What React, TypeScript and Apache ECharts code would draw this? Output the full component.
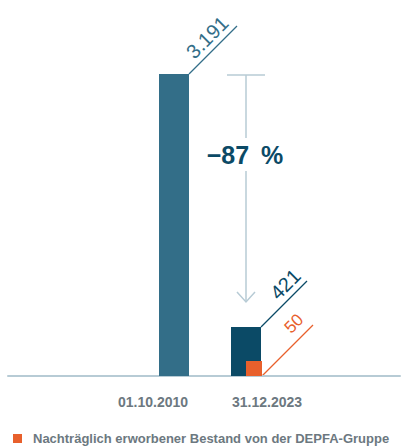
import React, { useEffect, useRef } from "react";
import * as echarts from "echarts";

const categories = ["01.10.2010", "31.12.2023"];
const bestand2010 = [3191, "-"];
const bestand2023 = ["-", 421];
const depfa = ["-", 50];
const legendName = "Nachträglich erworbener Bestand von der DEPFA-Gruppe";

const C_2010 = "#336e88";
const C_2023 = "#0b4a66";
const C_ORANGE = "#e8602c";
const C_GREY = "#b7cbd5";
const C_TEXT = "#6c7880";
const FONT = "'Liberation Sans', Arial, Helvetica, sans-serif";

export default function App() {
  const ref = useRef<HTMLDivElement>(null);
  useEffect(() => {
    if (!ref.current) return;
    const chart = echarts.init(ref.current, undefined, { renderer: "svg" });
    const maxVal = Math.max(...(bestand2010.filter((v) => typeof v === "number") as number[]));
    chart.setOption({
      animation: false,
      textStyle: { fontFamily: FONT },
      grid: [
        { left: 8, right: 8, top: 74, bottom: 72 },
        { left: 96, right: 84, top: 74, bottom: 72 },
      ],
      legend: {
        data: [legendName],
        left: 13,
        top: 432,
        padding: 0,
        icon: "rect",
        itemWidth: 9,
        itemHeight: 9,
        itemGap: 0,
        textStyle: { fontFamily: FONT, fontWeight: "bold", fontSize: 13, color: C_TEXT, padding: [0, 0, 0, 6] },
        selectedMode: false,
      },
      xAxis: [
        {
          gridIndex: 0,
          type: "category",
          data: [""],
          axisLine: { show: true, lineStyle: { color: C_GREY, width: 2 } },
          axisTick: { show: false },
          axisLabel: { show: false },
        },
        {
          gridIndex: 1,
          type: "category",
          data: categories,
          axisLine: { show: false },
          axisTick: { show: false },
          axisLabel: { margin: 19, fontFamily: FONT, fontWeight: "bold", fontSize: 14, color: C_TEXT },
        },
        {
          gridIndex: 1,
          type: "category",
          data: categories,
          show: false,
        },
      ],
      yAxis: [
        { gridIndex: 0, type: "value", show: false, min: 0, max: maxVal },
        { gridIndex: 1, type: "value", show: false, min: 0, max: maxVal, splitLine: { show: false } },
      ],
      series: [
        {
          name: "31.12.2023",
          type: "bar",
          xAxisIndex: 1,
          yAxisIndex: 1,
          data: bestand2023,
          barWidth: 30,
          barGap: "40%",
          barMinHeight: 49,
          itemStyle: { color: C_2023 },
        },
        {
          name: "01.10.2010",
          type: "bar",
          xAxisIndex: 1,
          yAxisIndex: 1,
          data: bestand2010,
          barWidth: 30,
          barGap: "40%",
          itemStyle: { color: C_2010 },
        },
        {
          name: legendName,
          type: "bar",
          xAxisIndex: 2,
          yAxisIndex: 1,
          data: depfa,
          barWidth: 16,
          barGap: "62.5%",
          barMinHeight: 15,
          itemStyle: { color: C_ORANGE },
        },
        {
          name: "spacer",
          type: "bar",
          xAxisIndex: 2,
          yAxisIndex: 1,
          data: ["-", "-"],
          barWidth: 16,
          barGap: "62.5%",
        },
      ],
    });

    const model: any = (chart as any).getModel();
    const layoutOf = (si: number, di: number) => model.getSeriesByIndex(si).getData().getItemLayout(di);
    const l2010 = layoutOf(1, 0);
    const l2023 = layoutOf(0, 1);
    const lDepfa = layoutOf(2, 1);
    const rectTop = (l: any) => Math.min(l.y, l.y + l.height);
    const rectBottom = (l: any) => Math.max(l.y, l.y + l.height);

    const fmt = (v: number) => v.toLocaleString("de-DE");
    const s = Math.SQRT1_2;
    const graphics: any[] = [];
    const addLabel = (sx: number, sy: number, len: number, text: string, color: string, size: number, back: number, gap: number) => {
      const ex = sx + len;
      const ey = sy - len;
      graphics.push({
        type: "line",
        silent: true,
        shape: { x1: sx, y1: sy, x2: ex, y2: ey },
        style: { stroke: color, lineWidth: 1.2 },
      });
      const ax = ex - back * s - gap * s;
      const ay = ey + back * s - gap * s;
      graphics.push({
        type: "text",
        silent: true,
        x: ax,
        y: ay,
        rotation: Math.PI / 4,
        style: {
          text,
          fill: color,
          font: `${size}px ${FONT}`,
          align: "right",
          verticalAlign: "bottom",
        },
      });
    };
    const v2010 = bestand2010[0] as number;
    const v2023 = bestand2023[1] as number;
    const vDepfa = depfa[1] as number;
    addLabel(l2010.x + l2010.width, rectTop(l2010), 48, fmt(v2010), C_2010, 20, 4, 3);
    addLabel(l2023.x + l2023.width, rectTop(l2023), 46, fmt(v2023), C_2023, 20, 1, 3);
    addLabel(lDepfa.x + lDepfa.width, rectBottom(lDepfa), 51, fmt(vDepfa), C_ORANGE, 17, 3, 6);

    // change arrow
    const ax = l2023.x + l2023.width / 2;
    const topY = rectTop(l2010) + 1;
    const tipY = rectTop(l2023) - 25;
    const txtY = topY + 80;
    const pct = Math.round(((v2023 - v2010) / v2010) * 100);
    const stroke = { stroke: C_GREY, lineWidth: 1.5 };
    graphics.push(
      { type: "line", silent: true, shape: { x1: ax - 19, y1: topY, x2: ax + 19, y2: topY }, style: stroke },
      { type: "line", silent: true, shape: { x1: ax, y1: topY, x2: ax, y2: txtY - 17 }, style: stroke },
      { type: "line", silent: true, shape: { x1: ax, y1: txtY + 16, x2: ax, y2: tipY }, style: stroke },
      {
        type: "polyline",
        silent: true,
        shape: { points: [[ax - 9, tipY - 10], [ax, tipY], [ax + 9, tipY - 10]] },
        style: { ...stroke, fill: null },
      },
      {
        type: "text",
        silent: true,
        x: ax - 1,
        y: txtY,
        style: {
          text: `${pct < 0 ? "\u2212" : "+"}${Math.abs(pct)}\u2009 %`,
          fill: C_2023,
          font: `bold 25px ${FONT}`,
          align: "center",
          verticalAlign: "middle",
        },
      }
    );
    chart.setOption({ graphic: graphics });
    return () => chart.dispose();
  }, []);
  return <div ref={ref} style={{ width: 408, height: 448, position: "absolute", left: 0, top: 0 }} />;
}
